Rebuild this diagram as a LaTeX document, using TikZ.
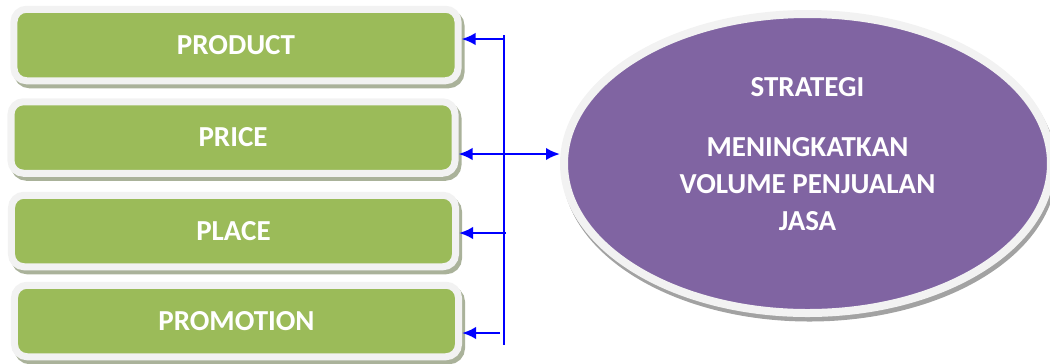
\documentclass[tikz,border=0pt]{standalone}
\usepackage{fontspec}
\setmainfont{Carlito}
\usetikzlibrary{arrows.meta,shapes.geometric}

\definecolor{mixgreen}{HTML}{9BBB59}
\definecolor{goalpurple}{HTML}{8064A2}
\definecolor{rimgray}{HTML}{F2F2F2}
\definecolor{boxshade}{HTML}{AAB29A}
\definecolor{ovalshade}{HTML}{A2A2A2}

\tikzset{
  mixbox/.style={draw=rimgray, line width=0.14cm, fill=mixgreen,
    rounded corners=0.25cm, minimum width=8.88cm, minimum height=1.43cm,
    text=white, font=\bfseries\fontsize{16.5}{20}\selectfont,
    preaction={draw=boxshade, fill=boxshade,
      transform canvas={shift={(0.06,-0.08)}}}},
  goal/.style={ellipse, draw=rimgray, line width=0.16cm, fill=goalpurple,
    minimum width=9.74cm, minimum height=5.98cm,
    preaction={draw=ovalshade, fill=ovalshade,
      transform canvas={shift={(0.04,-0.09)}}}},
  goaltext/.style={align=center, text=white,
    font=\bfseries\fontsize{16.5}{21}\selectfont},
  link/.style={->, >={Latex[length=2.8mm,width=2.5mm]}, blue, line width=0.05cm}
}

\begin{document}
\begin{tikzpicture}
\useasboundingbox (0,0) rectangle (21,-7.26);

% the four mix boxes
\node[mixbox] (prod)  at (4.72,-0.90) {PRODUCT};
\node[mixbox] (price) at (4.66,-2.75) {PRICE};
\node[mixbox] (place) at (4.67,-4.62) {PLACE};
\node[mixbox] (promo) at (4.73,-6.42) {PROMOTION};

% strategy oval
\node[goal] (strat) at (16.15,-3.27) {};
\node[goaltext] (stxt) at (16.15,-3.08) {STRATEGI\\[13pt]MENINGKATKAN\\VOLUME PENJUALAN\\JASA};

% bus line and its taps
\coordinate (top) at (10.08,-0.70);
\coordinate (bot) at (10.08,-6.90);
\coordinate (j1) at (10.08,-0.78);
\coordinate (j2) at (10.08,-3.08);
\coordinate (j3) at (10.12,-4.66);
\coordinate (j4) at (10.00,-6.66);

\draw[blue, line width=0.05cm] (top) -- (bot);
\draw[link] (j1) -- (j1 -| prod.east);
\draw[link,<->] (j2 -| price.east) -- (j2 -| strat.west);
\draw[link] (j3) -- (j3 -| place.east);
\draw[link] (j4) -- (j4 -| promo.east);
\end{tikzpicture}
\end{document}
